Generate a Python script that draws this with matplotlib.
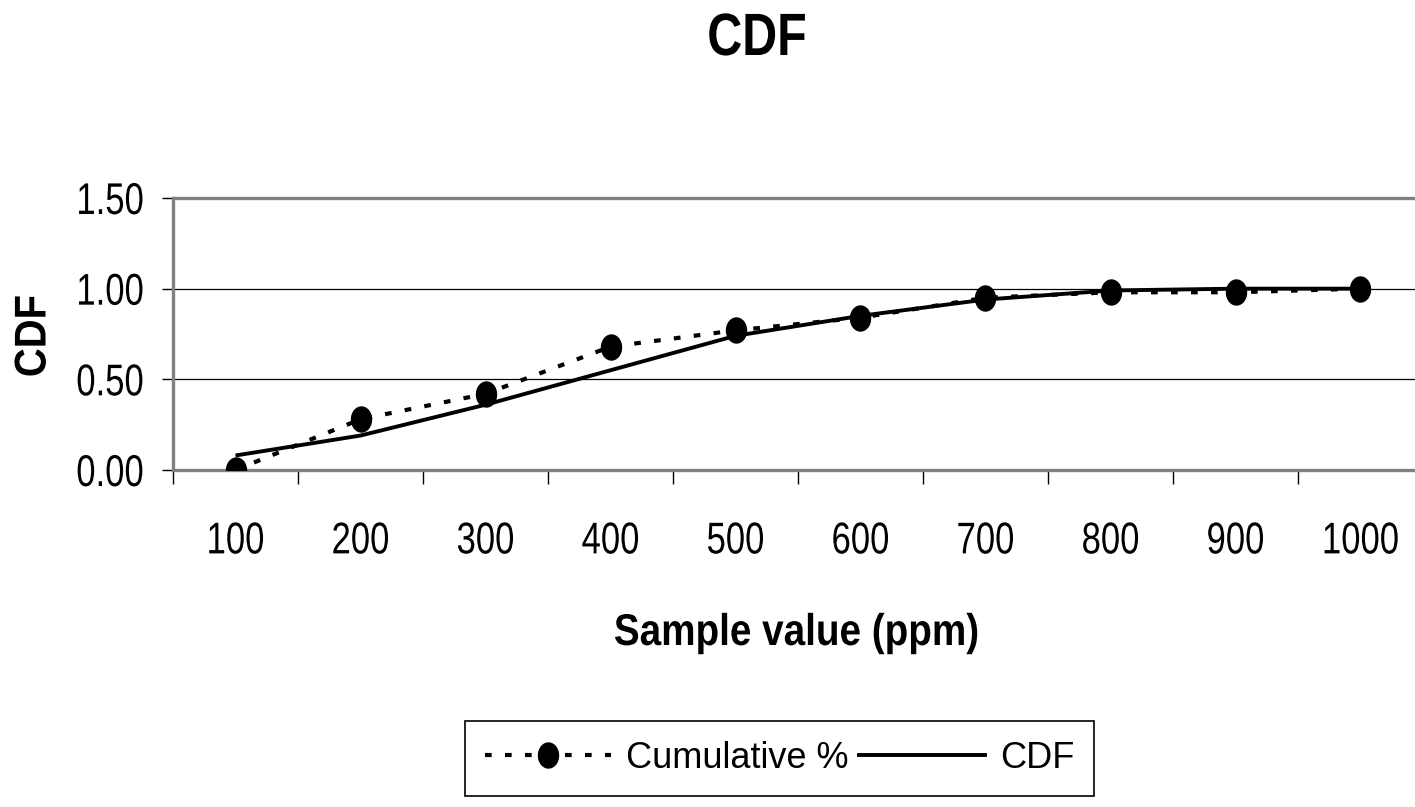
import matplotlib
matplotlib.use("Agg")
import matplotlib.pyplot as plt
from matplotlib.path import Path
from matplotlib.lines import Line2D
from matplotlib.patheffects import AbstractPathEffect
from matplotlib.transforms import Affine2D
import numpy as np

categories = ["100", "200", "300", "400", "500", "600", "700", "800", "900", "1000"]
cumulative = [0.00, 0.28, 0.42, 0.68, 0.77, 0.84, 0.95, 0.98, 0.98, 1.00]
cdf = [0.08, 0.19, 0.36, 0.55, 0.74, 0.85, 0.94, 0.99, 1.00, 1.00]
y_ticks = [0.0, 0.5, 1.0, 1.5]
y_labels = ["0.00", "0.50", "1.00", "1.50"]

plt.rcParams['font.family'] = ['Liberation Sans', 'DejaVu Sans']


class Squeeze(AbstractPathEffect):
    """Draw text glyphs narrowed around an anchor point (condensed look)."""

    def __init__(self, sx, sy, cx, cy):
        super().__init__()
        self.sx, self.sy, self.cx, self.cy = sx, sy, cx, cy

    def draw_path(self, renderer, gc, tpath, affine, rgbFace=None):
        t = affine + Affine2D().translate(-self.cx, -self.cy).scale(self.sx, self.sy).translate(self.cx, self.cy)
        renderer.draw_path(gc, tpath, t, rgbFace)


W, H = 1415, 807
fig = plt.figure(figsize=(W / 100, H / 100), dpi=100)
fig.patch.set_facecolor("white")

ax = fig.add_axes([173 / W, 1 - 470 / H, 1250 / W, 272 / H])
x = np.arange(len(categories))

circ = Path.unit_circle()
ell = Path(circ.vertices * np.array([0.8, 1.0]), circ.codes)
dots = (0, (1.6, 3.2))

ax.plot(x, cdf, color="black", lw=2.8, solid_capstyle="butt", zorder=3, label="CDF")
ax.plot(x, cumulative, color="black", lw=3.0, linestyle=dots,
        dash_capstyle="butt", marker=ell, markersize=18, markerfacecolor="black",
        markeredgecolor="black", zorder=4, label="Cumulative %")

ax.set_xlim(-0.5, len(categories) - 0.5)
ax.set_ylim(0, 1.5)

ax.set_yticks(y_ticks)
ax.set_yticklabels(y_labels, fontsize=32)
ax.tick_params(axis="y", direction="out", length=8, width=1, color="black", pad=13)

ax.set_xticks(np.arange(-0.5, len(categories), 1.0))
ax.set_xticklabels([])
ax.tick_params(axis="x", which="major", direction="out", length=10, width=1, color="black")
ax.set_xticks(x, minor=True)
ax.set_xticklabels(categories, minor=True, fontsize=32)
ax.tick_params(axis="x", which="minor", length=0, pad=37)

for yv in [0.5, 1.0]:
    ax.axhline(yv, color="black", lw=0.9, zorder=1)

for s in ["top", "left", "bottom"]:
    ax.spines[s].set_color("#808080")
    ax.spines[s].set_linewidth(2.4)
ax.spines["right"].set_visible(False)

title = fig.text(757 / W, 1 - 55 / H, "CDF", fontsize=43, fontweight="bold",
                 ha="center", va="baseline")
ylab = fig.text(34 / W, 1 - 336 / H, "CDF", fontsize=32, fontweight="bold",
                rotation=90, ha="center", va="center")
xlab = fig.text(797 / W, 1 - 645 / H, "Sample value (ppm)", fontsize=32, fontweight="bold",
                ha="center", va="baseline")

handles = [
    Line2D([0], [0], color="black", lw=3.0, linestyle=dots, dash_capstyle="butt",
           marker=ell, markersize=18, markerfacecolor="black", markeredgecolor="black"),
    Line2D([0], [0], color="black", lw=2.8),
]
leg = fig.legend(handles, ["Cumulative %", "CDF"], loc="upper left",
                 bbox_to_anchor=(465 / W, 1 - 721 / H), ncol=2, fontsize=26,
                 frameon=True, fancybox=False, edgecolor="black", framealpha=1,
                 handlelength=3.5, handletextpad=0.4, columnspacing=0.3,
                 borderpad=0.55, borderaxespad=0)
leg.get_frame().set_linewidth(1.2)

# condense the Arial-like text to match the narrow face of the original
fig.canvas.draw()
r = fig.canvas.get_renderer()


def squeeze(t, sx=1.0, sy=1.0, anchor="center"):
    bb = t.get_window_extent(r)
    cx = bb.x1 if anchor == "right" else (bb.x0 + bb.x1) / 2
    cy = (bb.y0 + bb.y1) / 2
    t.set_path_effects([Squeeze(sx, sy, cx, cy)])


for t in ax.get_xticklabels(minor=True):
    squeeze(t, sx=0.78)
for t in ax.get_yticklabels():
    squeeze(t, sx=0.78, anchor="right")
squeeze(title, sx=0.81)
squeeze(ylab, sy=0.9)
squeeze(xlab, sx=0.87)

fig.savefig("out.png", dpi=100, facecolor="white")
